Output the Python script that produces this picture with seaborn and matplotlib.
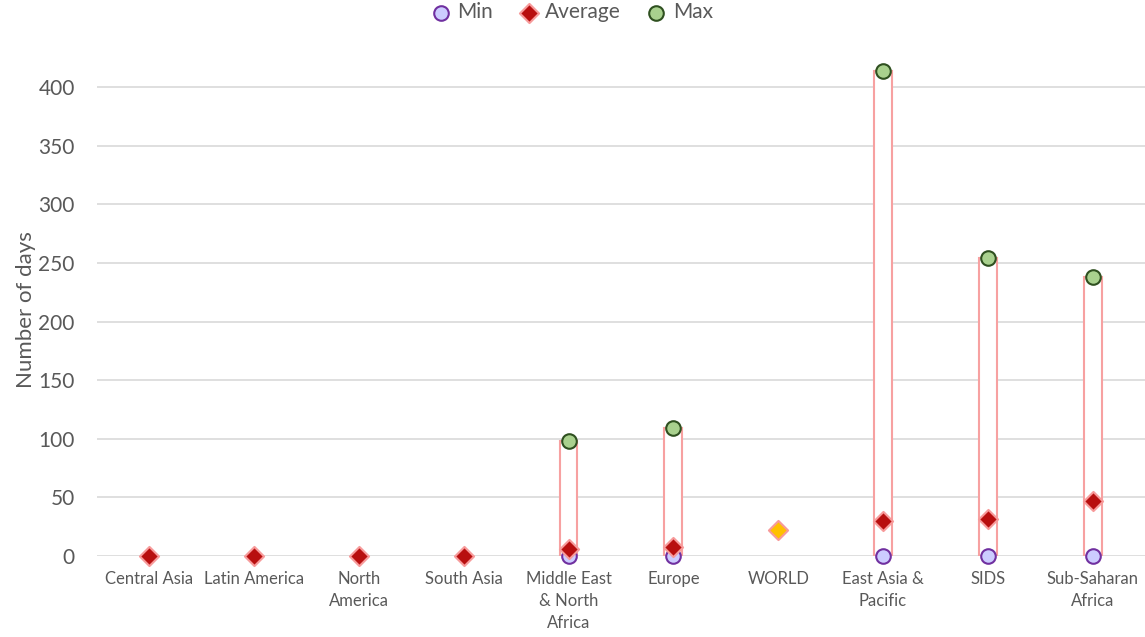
import numpy as np
import pandas as pd
import matplotlib
matplotlib.use("Agg")
import matplotlib.pyplot as plt
import seaborn as sns

# data
regions = ["Central Asia", "Latin America", "North\nAmerica", "South Asia",
           "Middle East\n& North\nAfrica", "Europe", "WORLD", "East Asia &\nPacific",
           "SIDS", "Sub-Saharan\nAfrica"]
min_days = [np.nan, np.nan, np.nan, np.nan, 0, 0, np.nan, 0, 0, 0]
avg_days = [0, 0, 0, 0, 6, 7.5, 22, 30, 31.5, 47]
max_days = [np.nan, np.nan, np.nan, np.nan, 98, 109, np.nan, 414, 254, 238]

df = pd.DataFrame({"region": regions, "min": min_days, "avg": avg_days, "max": max_days})
df["pos"] = np.arange(len(df))

sns.set_style("white")
plt.rcParams["font.family"] = ["Lato", "DejaVu Sans"]

fig = plt.figure(figsize=(11.45, 6.37), dpi=100)
ax = fig.add_axes([0.0847, 0.127, 0.9153, 0.773])

# range boxes from min to max
rng = df.dropna(subset=["min", "max"])
ax.bar(rng["pos"], rng["max"] - rng["min"], bottom=rng["min"], width=0.17,
       facecolor="white", edgecolor="#F7A1A1", linewidth=1.5, zorder=2)

sns.scatterplot(data=df.dropna(subset=["min"]), x="pos", y="min", ax=ax,
                marker="o", s=110, color="#CCCCFF", edgecolor="#7030A0",
                linewidth=1.5, label="Min", zorder=3, clip_on=False)
world = df["region"] == "WORLD"
sns.scatterplot(data=df[~world], x="pos", y="avg", ax=ax,
                marker="D", s=95, color="#B80F0F", edgecolor="#F79A9A",
                linewidth=1.5, label="Average", zorder=4, clip_on=False)
sns.scatterplot(data=df[world], x="pos", y="avg", ax=ax,
                marker="D", s=95, color="#FFC000", edgecolor="#F79A9A",
                linewidth=1.5, legend=False, zorder=4, clip_on=False)
sns.scatterplot(data=df.dropna(subset=["max"]), x="pos", y="max", ax=ax,
                marker="o", s=110, color="#A9D18E", edgecolor="#2F5020",
                linewidth=1.5, label="Max", zorder=5, clip_on=False)

ax.set_xlim(-0.5, len(df) - 0.5)
ax.set_ylim(0, 420)
ax.set_yticks(range(0, 401, 50))
ax.set_xticks(df["pos"])
ax.set_xticklabels(df["region"], fontsize=12, color="#595959", linespacing=1.45)
ax.tick_params(axis="y", labelsize=15, labelcolor="#595959", length=0, pad=16)
ax.tick_params(axis="x", length=0, pad=11)
ax.grid(axis="y", color="#D9D9D9", linewidth=1.2)
ax.set_axisbelow(True)
for s in ax.spines.values():
    s.set_visible(False)
ax.set_xlabel("")
ax.set_ylabel("Number of days", fontsize=16, color="#595959", labelpad=2)

ax.legend(loc="center", bbox_to_anchor=(0.453, 1.105), ncol=3, frameon=False,
          fontsize=15, handlelength=1.0, handletextpad=0.3, columnspacing=1.2,
          labelcolor="#595959")

plt.savefig("out.png", dpi=100)
